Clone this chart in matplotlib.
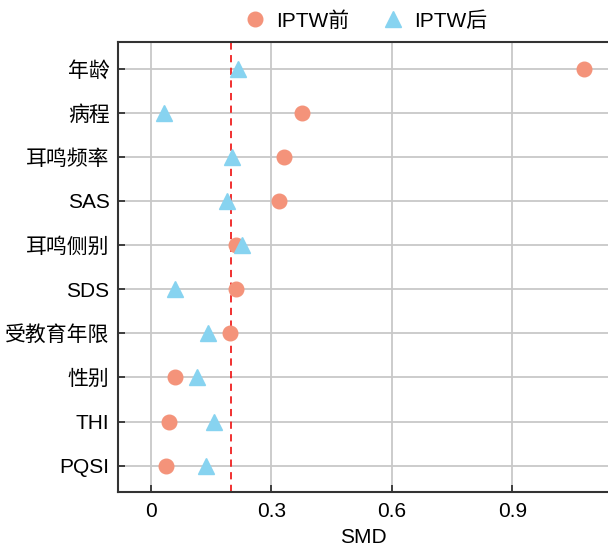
import matplotlib
matplotlib.use("Agg")
import matplotlib.pyplot as plt

plt.rcParams['font.family'] = ['Liberation Sans', 'Noto Sans CJK SC', 'DejaVu Sans']

# covariates, top to bottom
variables = ["年龄", "病程", "耳鸣频率", "SAS", "耳鸣侧别", "SDS",
             "受教育年限", "性别", "THI", "PQSI"]
smd_before = [1.078, 0.376, 0.331, 0.319, 0.212, 0.212, 0.197, 0.060, 0.045, 0.037]
smd_after = [0.217, 0.032, 0.202, 0.189, 0.227, 0.060, 0.142, 0.115, 0.157, 0.137]
threshold = 0.2
xticks = [0, 0.3, 0.6, 0.9]
xtick_labels = ["0", "0.3", "0.6", "0.9"]

fig = plt.figure(figsize=(6.08, 5.48), dpi=100)
ax = fig.add_axes([0.194, 0.102, 0.806, 0.821])

ypos = list(range(len(variables)))

ax.plot(smd_before, ypos, "o", color="#F4937A", markersize=10.5,
        label="IPTW前", zorder=3, clip_on=False)
ax.plot(smd_after, ypos, "^", color="#87D3F0", markersize=11.5,
        label="IPTW后", zorder=4, clip_on=False)
ax.axvline(threshold, color="#F02020", linestyle=(0, (4, 3)), linewidth=1.3, zorder=2)

ax.set_xlim(-0.082, 1.138)
ax.set_ylim(len(variables) - 0.4, -0.6)
ax.set_yticks(ypos)
ax.set_yticklabels(variables)
ax.set_xticks(xticks)
ax.set_xticklabels(xtick_labels)
ax.set_xlabel("SMD", fontsize=15, labelpad=5)

ax.grid(True, color="#C8C8C8", linewidth=1.3, zorder=0)
ax.set_axisbelow(True)
ax.tick_params(direction="in", length=5, width=1.3, labelsize=15, color="#333333")
ax.tick_params(axis="y", pad=6)
ax.tick_params(axis="x", pad=7)

for side in ["left", "bottom", "top"]:
    ax.spines[side].set_color("#333333")
    ax.spines[side].set_linewidth(1.5)
ax.spines["right"].set_visible(False)

ax.legend(loc="lower center", bbox_to_anchor=(0.5, 1.0), ncol=2, frameon=False,
          fontsize=15, handletextpad=0.2, columnspacing=1.3, borderaxespad=0.15,
          handlelength=1.6, bbox_transform=ax.transAxes)

fig.savefig("out.png", dpi=100)
